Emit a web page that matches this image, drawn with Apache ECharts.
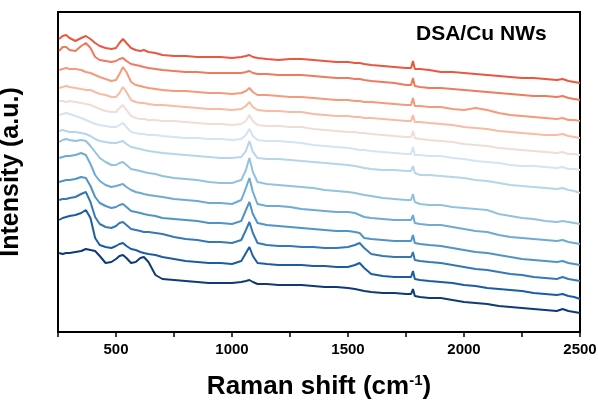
<!DOCTYPE html>
<html>
<head>
<meta charset="utf-8">
<script src="https://cdn.jsdelivr.net/npm/echarts@6/dist/echarts.min.js"></script>
<style>
html,body{margin:0;padding:0;background:#fff;}
#chart{width:598px;height:405px;}
</style>
</head>
<body>
<div id="chart"></div>
<script>
// Raman shift positions (cm-1)
const shift = [255,270,285,300,325,350,370,390,410,430,455,480,500,515,530,545,565,585,605,620,640,670,700,750,800,850,900,950,1000,1040,1060,1075,1090,1110,1150,1200,1250,1300,1350,1400,1450,1500,1530,1550,1570,1600,1650,1700,1750,1772,1780,1788,1810,1850,1900,1950,2000,2050,2100,2150,2200,2250,2300,2350,2400,2425,2450,2475,2500];

// Stacked intensities (a.u.), top spectrum first
const s0 = [293,296,297,294,291,294,296,293,289,286,284,283,284,289,293,289,284,282,281,282,280,279,277,276,276,275,275,275,274,275,276,277,275,274,273,272,273,273,272,271,270,270,269,269,268,267,266,265,264,264,271,263,263,262,260,260,259,258,257,256,255,254,254,253,252,253,251,250,249];
const s1 = [281,285,285,282,281,286,289,284,275,272,271,270,271,273,274,271,268,267,266,265,264,263,262,261,260,260,259,259,259,259,260,261,259,258,258,257,257,257,256,255,254,254,253,253,252,251,250,249,247,247,254,246,245,244,244,243,242,241,240,239,238,237,236,236,235,236,234,233,232];
const s2 = [262,263,264,263,263,262,260,259,257,255,253,251,252,258,265,260,250,247,246,245,244,243,242,241,241,240,239,239,238,239,241,244,240,237,237,236,235,235,234,233,232,232,231,231,230,230,229,228,227,227,234,226,226,225,225,223,222,224,222,219,217,216,215,214,213,214,212,212,211];
const s3 = [244,245,246,245,244,243,242,242,240,238,237,235,235,239,245,240,232,230,229,229,228,227,227,226,225,224,223,223,222,223,226,230,225,222,221,221,220,220,218,217,216,216,215,215,214,214,213,212,211,211,217,210,210,209,208,207,205,204,203,201,200,199,198,197,197,198,196,195,194];
const s4 = [231,231,230,231,230,229,228,227,225,223,221,220,220,224,227,222,216,214,213,213,212,212,211,211,210,209,208,208,207,208,211,217,211,207,206,206,205,205,203,202,201,200,200,199,199,198,197,196,195,195,201,194,193,192,191,190,188,187,186,184,183,182,181,180,179,180,178,178,177];
const s5 = [217,218,219,218,216,214,212,210,208,207,206,205,205,207,209,205,200,199,198,198,197,197,196,195,194,194,193,193,192,193,197,203,196,192,191,191,190,189,187,186,185,184,183,182,182,181,180,179,178,178,185,177,177,176,176,174,173,171,170,169,167,166,166,165,164,165,163,163,162];
const s6 = [201,202,201,200,200,199,198,196,193,191,190,189,189,190,191,188,185,184,183,182,181,180,179,178,177,176,175,174,174,175,181,191,180,174,173,173,172,171,170,169,168,167,166,165,164,163,162,162,161,161,166,159,157,157,156,155,154,152,151,149,147,146,145,144,143,144,142,141,139];
const s7 = [190,192,193,192,191,192,191,186,180,174,170,167,167,169,170,167,163,162,161,160,159,158,156,154,153,152,150,149,149,152,162,174,160,150,148,147,146,145,144,142,141,140,139,138,137,136,134,133,132,132,138,130,128,127,127,125,124,123,122,118,116,114,113,111,110,111,110,109,108];
const s8 = [174,175,176,176,177,179,177,168,157,151,147,145,146,147,148,145,142,140,139,138,137,136,135,133,132,131,129,129,128,132,144,154,140,128,126,126,125,123,122,121,120,120,119,117,115,114,113,112,112,112,117,109,108,107,107,105,103,101,100,97,95,94,93,92,91,92,90,89,88];
const s9 = [150,151,152,152,153,155,154,146,135,129,126,124,125,127,128,125,121,120,119,118,117,116,114,113,112,111,109,109,108,111,122,130,118,109,107,106,105,104,103,102,101,101,100,99,94,93,92,91,91,91,97,89,88,87,86,84,82,80,79,77,75,73,72,71,70,71,69,68,67];
const s10 = [132,133,133,134,135,138,140,130,115,108,105,104,106,109,110,107,103,102,101,100,100,99,98,95,93,92,90,90,89,92,102,110,99,89,87,86,86,85,85,84,84,85,87,89,84,78,76,75,75,75,80,72,71,70,69,67,65,63,62,60,58,57,55,54,53,55,53,52,51];
const s11 = [112,114,115,116,117,119,122,114,94,87,85,84,86,88,89,86,83,82,80,79,78,77,75,73,71,70,69,69,68,71,79,85,76,69,68,67,67,67,66,66,65,65,67,69,64,58,56,55,55,55,61,53,52,51,50,49,47,46,44,43,42,41,39,38,37,38,36,35,33];
const s12 = [79,78,79,79,80,81,83,82,81,76,69,70,73,76,77,74,69,70,74,75,70,57,53,52,51,50,49,49,49,50,51,52,50,48,48,47,47,47,46,45,45,44,43,42,41,40,39,39,38,38,43,36,35,34,34,32,30,29,28,26,25,24,23,22,21,23,21,20,19];

const spectra = [s0,s1,s2,s3,s4,s5,s6,s7,s8,s9,s10,s11,s12];
const colors = ['#e9573f','#f07a5c','#f59a7a','#f8bca3','#efddd6','#d3e4f3','#b5d5ea','#93c2df','#6eabd4','#4f94c7','#3479b6','#1c5da0','#0e3a78'];
const xTicks = [500,1000,1500,2000,2500];

const chart = echarts.init(document.getElementById('chart'));
chart.setOption({
  animation: false,
  grid: {left: 58, right: 18, top: 12, bottom: 73, show: true, borderColor: '#000', borderWidth: 2,
    containLabel: false, outerBoundsMode: 'none'},
  xAxis: {
    type: 'value', min: 250, max: 2500, interval: 250,
    axisLine: {lineStyle: {color: '#000', width: 2}},
    axisTick: {show: true, length: 5, lineStyle: {color: '#000', width: 1.5}},
    axisLabel: {color: '#000', fontSize: 15, fontWeight: 'bold', fontFamily: 'Arial, Liberation Sans', margin: 10,
      formatter: v => xTicks.includes(v) ? String(v) : ''},
    splitLine: {show: false},
    name: 'Raman shift (cm{sup|-1})', nameLocation: 'middle', nameGap: 41,
    nameTextStyle: {color: '#000', fontSize: 26, fontWeight: 'bold', fontFamily: 'Arial, Liberation Sans',
      rich: {sup: {fontSize: 15, fontWeight: 'bold', fontFamily: 'Arial, Liberation Sans', color: '#000', verticalAlign: 'top', padding: [0,0,12,0]}}}
  },
  yAxis: {
    type: 'value', min: 0, max: 320,
    axisLine: {show: true, lineStyle: {color: '#000', width: 2}},
    axisTick: {show: false}, axisLabel: {show: false}, splitLine: {show: false},
    name: 'Intensity (a.u.)', nameLocation: 'middle', nameGap: 34,
    nameTextStyle: {color: '#000', fontSize: 25, fontWeight: 'bold', fontFamily: 'Arial, Liberation Sans'}
  },
  graphic: [{type: 'text', left: 416, top: 24, style: {text: 'DSA/Cu NWs', fill: '#000', font: 'bold 21px Arial, Liberation Sans'}}],
  series: spectra.map((arr, k) => ({
    type: 'line', showSymbol: false, symbol: 'none',
    data: shift.map((x, i) => [x, arr[i]]),
    lineStyle: {color: colors[k], width: 2},
    z: 2
  }))
});
</script>
</body>
</html>
